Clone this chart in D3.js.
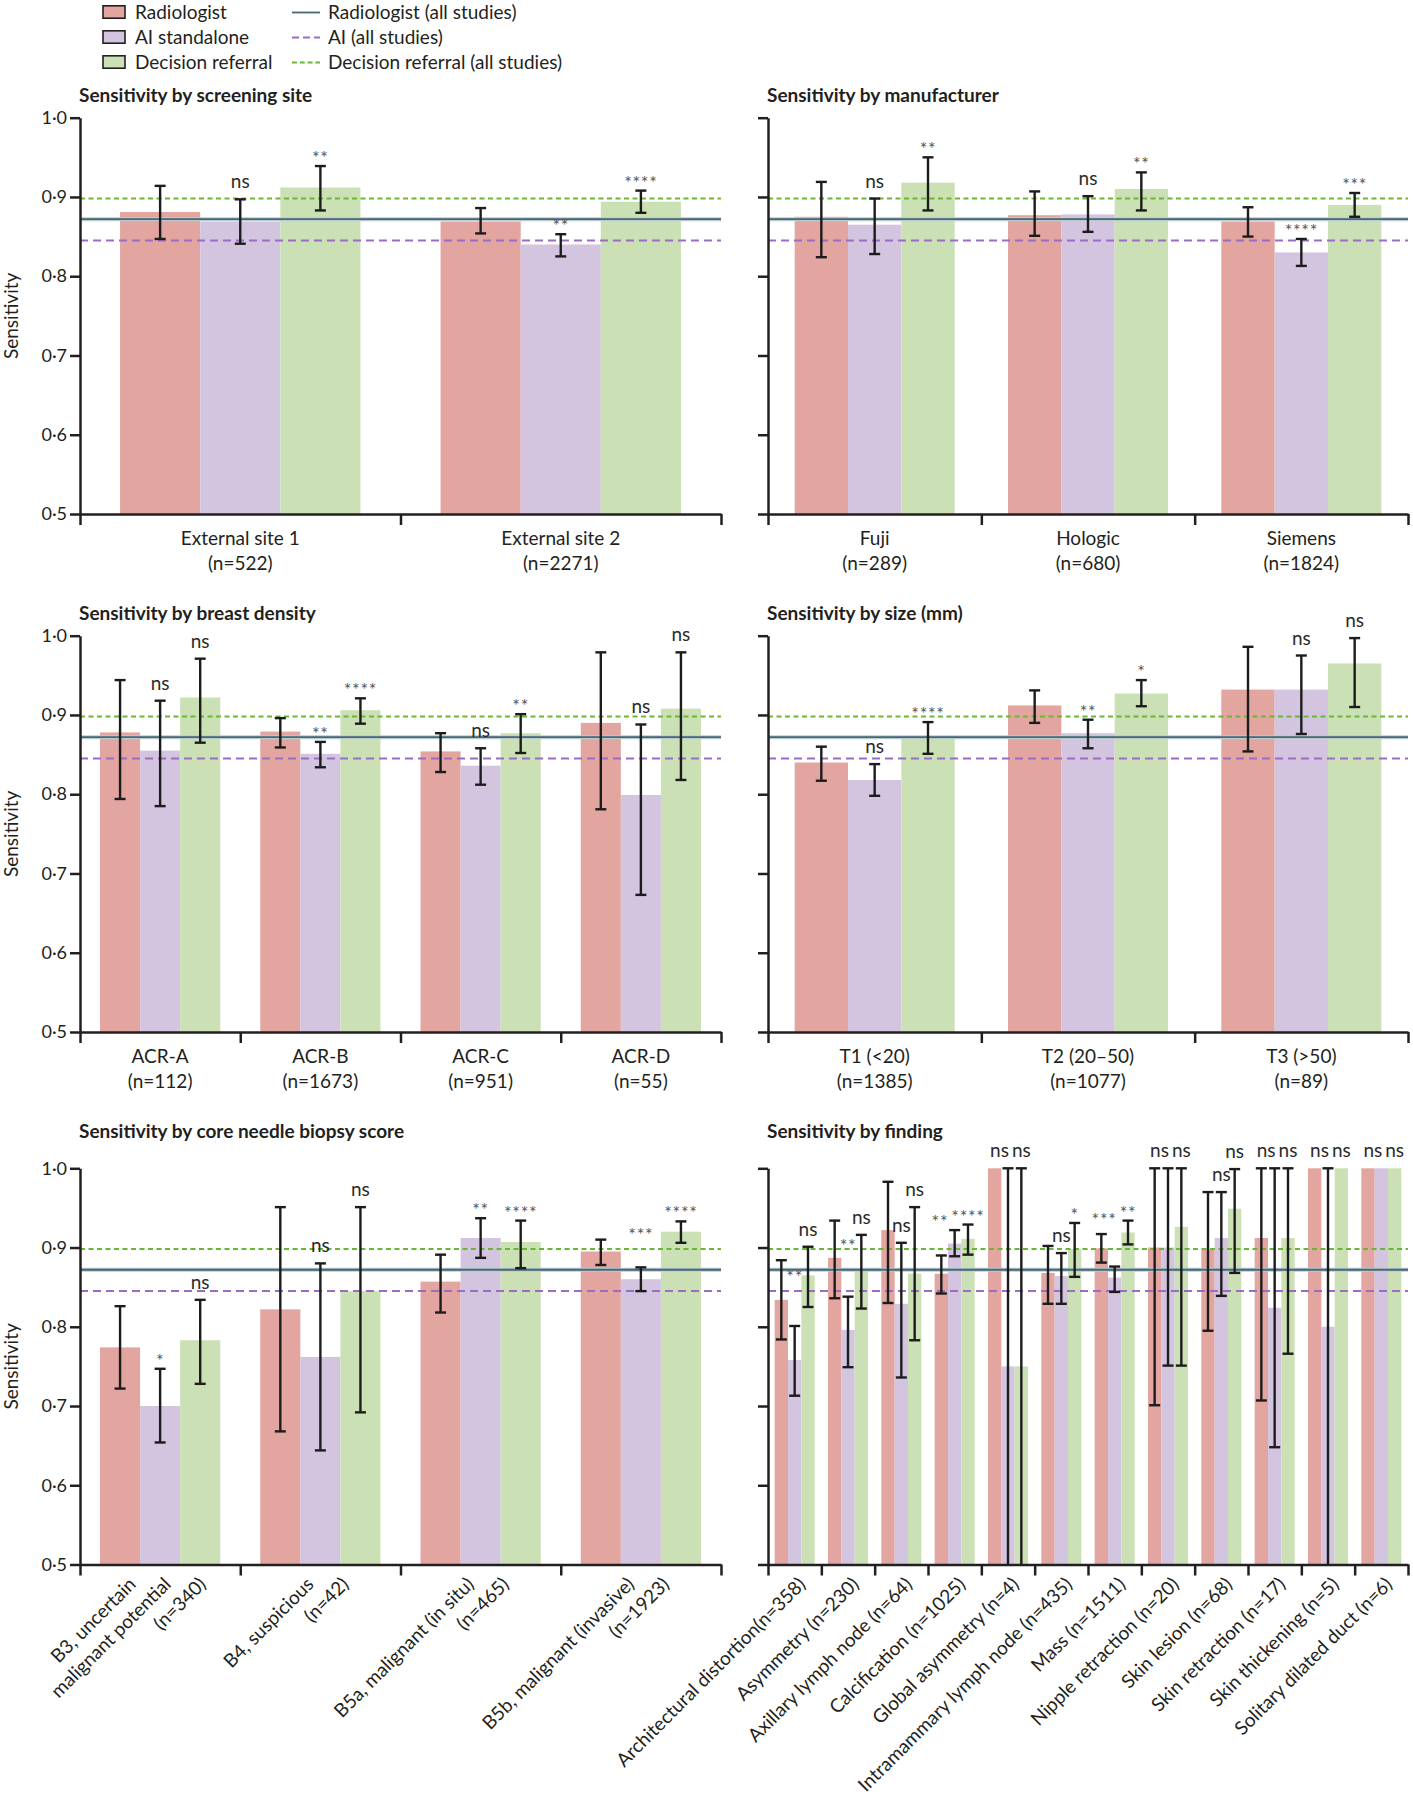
<!DOCTYPE html>
<html><head><meta charset="utf-8">
<script src="https://cdn.jsdelivr.net/npm/d3@7"></script>
<style>
body{margin:0;background:#fff;}
svg{display:block;font-family:Lato,"Noto Sans",sans-serif;}
.title{font-weight:700;font-size:19px;fill:#231f20;}
.lbl{font-size:19px;fill:#231f20;}
.tick text{font-size:18px;fill:#231f20;font-family:Lato,"Noto Sans",sans-serif;}
.axis path,.axis line{stroke:#231f20;stroke-width:2.5;}
</style>
</head><body>
<svg id="chart" width="1413" height="1800"></svg>
<script>
// ================= DATA =================
const seriesNames = ["Radiologist", "AI standalone", "Decision referral"];
const refNames = ["Radiologist (all studies)", "AI (all studies)", "Decision referral (all studies)"];
const refValues = [0.872, 0.845, 0.898];
const yTicks = [0.5, 0.6, 0.7, 0.8, 0.9, 1.0];
const yTitle = "Sensitivity";

// values are [sensitivity, lower CI, upper CI]
const siteTitle = "Sensitivity by screening site";
const siteCats = [["External site 1", "(n=522)"], ["External site 2", "(n=2271)"]];
const siteRad = [[0.881, 0.847, 0.914], [0.869, 0.854, 0.886]];
const siteAI  = [[0.869, 0.841, 0.897], [0.840, 0.825, 0.853]];
const siteDR  = [[0.912, 0.883, 0.939], [0.894, 0.880, 0.908]];
const siteAISig = ["ns", "**"];
const siteDRSig = ["**", "****"];

const manuTitle = "Sensitivity by manufacturer";
const manuCats = [["Fuji", "(n=289)"], ["Hologic", "(n=680)"], ["Siemens", "(n=1824)"]];
const manuRad = [[0.875, 0.824, 0.919], [0.877, 0.851, 0.907], [0.869, 0.850, 0.887]];
const manuAI  = [[0.865, 0.828, 0.898], [0.878, 0.856, 0.901], [0.830, 0.813, 0.847]];
const manuDR  = [[0.918, 0.883, 0.950], [0.910, 0.883, 0.931], [0.890, 0.875, 0.905]];
const manuAISig = ["ns", "ns", "****"];
const manuDRSig = ["**", "**", "***"];

const densTitle = "Sensitivity by breast density";
const densCats = [["ACR-A", "(n=112)"], ["ACR-B", "(n=1673)"], ["ACR-C", "(n=951)"], ["ACR-D", "(n=55)"]];
const densRad = [[0.878, 0.794, 0.944], [0.879, 0.859, 0.896], [0.854, 0.828, 0.877], [0.890, 0.781, 0.979]];
const densAI  = [[0.855, 0.785, 0.918], [0.851, 0.834, 0.866], [0.836, 0.812, 0.858], [0.799, 0.673, 0.888]];
const densDR  = [[0.922, 0.865, 0.971], [0.906, 0.889, 0.921], [0.877, 0.852, 0.901], [0.908, 0.818, 0.979]];
const densAISig = ["ns", "**", "ns", "ns"];
const densDRSig = ["ns", "****", "**", "ns"];

const sizeTitle = "Sensitivity by size (mm)";
const sizeCats = [["T1 (<20)", "(n=1385)"], ["T2 (20–50)", "(n=1077)"], ["T3 (>50)", "(n=89)"]];
const sizeRad = [[0.840, 0.817, 0.860], [0.912, 0.890, 0.931], [0.932, 0.854, 0.986]];
const sizeAI  = [[0.818, 0.798, 0.838], [0.877, 0.858, 0.894], [0.932, 0.876, 0.975]];
const sizeDR  = [[0.871, 0.851, 0.891], [0.927, 0.911, 0.944], [0.965, 0.910, 0.997]];
const sizeAISig = ["ns", "**", "ns"];
const sizeDRSig = ["****", "*", "ns"];

const biopTitle = "Sensitivity by core needle biopsy score";
const biopCats = [["B3, uncertain", "malignant potential", "(n=340)"], ["B4, suspicious", "(n=42)"],
                  ["B5a, malignant (in situ)", "(n=465)"], ["B5b, malignant (invasive)", "(n=1923)"]];
const biopRad = [[0.774, 0.722, 0.826], [0.822, 0.668, 0.951], [0.857, 0.818, 0.891], [0.895, 0.878, 0.910]];
const biopAI  = [[0.700, 0.654, 0.747], [0.762, 0.644, 0.880], [0.912, 0.887, 0.937], [0.860, 0.845, 0.875]];
const biopDR  = [[0.783, 0.728, 0.834], [0.845, 0.692, 0.951], [0.907, 0.874, 0.934], [0.920, 0.906, 0.933]];
const biopAISig = ["*", "ns", "**", "***"];
const biopDRSig = ["ns", "ns", "****", "****"];
const biopAISigAt = [null, null, null, 0.908];   // annotation level (sensitivity units) where set

const findTitle = "Sensitivity by finding";
const findCats = [["Architectural distortion(n=358)"], ["Asymmetry (n=230)"], ["Axillary lymph node (n=64)"],
  ["Calcification (n=1025)"], ["Global asymmetry (n=4)"], ["Intramammary lymph node (n=435)"], ["Mass (n=1511)"],
  ["Nipple retraction (n=20)"], ["Skin lesion (n=68)"], ["Skin retraction (n=17)"], ["Skin thickening (n=5)"],
  ["Solitary dilated duct (n=6)"]];
const findRad = [[0.834, 0.784, 0.884], [0.887, 0.836, 0.934], [0.922, 0.830, 0.983], [0.867, 0.842, 0.890],
  [1.0, null, null], [0.868, 0.829, 0.902], [0.899, 0.881, 0.917], [0.900, 0.701, 1.0], [0.897, 0.795, 0.970],
  [0.912, 0.707, 1.0], [1.0, null, null], [1.0, null, null]];
const findAI = [[0.758, 0.713, 0.801], [0.796, 0.749, 0.838], [0.829, 0.736, 0.906], [0.905, 0.889, 0.922],
  [0.75, 0.40, 1.0], [0.864, 0.829, 0.893], [0.862, 0.844, 0.876], [0.900, 0.751, 1.0], [0.912, 0.839, 0.970],
  [0.824, 0.648, 1.0], [0.80, 0.40, 1.0], [1.0, null, null]];
const findDR = [[0.865, 0.825, 0.901], [0.873, 0.823, 0.916], [0.867, 0.783, 0.951], [0.911, 0.891, 0.929],
  [0.75, 0.40, 1.0], [0.898, 0.863, 0.931], [0.919, 0.904, 0.934], [0.926, 0.751, 1.0], [0.949, 0.868, 0.999],
  [0.912, 0.766, 1.0], [1.0, null, null], [1.0, null, null]];
const findAISig = ["**", "**", "ns", "**", "ns", "ns", "***", "ns", "ns", "ns", "ns", "ns"];
const findDRSig = ["ns", "ns", "ns", "****", "ns", "*", "**", "ns", "ns", "ns", "ns", "ns"];
const findAISigAt = [0.855, 0.894, null, null, null, null, 0.927, null, null, null, null, null];

// ================= LAYOUT / STYLE =================
const rows = [{yT: 117.7, yB: 514, titleY: 102}, {yT: 635.7, yB: 1032, titleY: 620}, {yT: 1168.3, yB: 1564.5, titleY: 1138}];
const cols = [{xL: 80, xR: 721}, {xL: 768, xR: 1408}];
const colors = ["#e2a59f", "#d3c4e0", "#cbe1b5"];
const refStyle = [{stroke: "#4a6670", dash: null}, {stroke: "#9a6cc4", dash: "8,5"}, {stroke: "#68b836", dash: "5,3.5"}];

const panels = [
  {title: siteTitle, cats: siteCats, series: [siteRad, siteAI, siteDR], sigs: [null, siteAISig, siteDRSig], at: [null, null, null], r: 0, c: 0, mode: "stack"},
  {title: manuTitle, cats: manuCats, series: [manuRad, manuAI, manuDR], sigs: [null, manuAISig, manuDRSig], at: [null, null, null], r: 0, c: 1, mode: "stack"},
  {title: densTitle, cats: densCats, series: [densRad, densAI, densDR], sigs: [null, densAISig, densDRSig], at: [null, null, null], r: 1, c: 0, mode: "stack"},
  {title: sizeTitle, cats: sizeCats, series: [sizeRad, sizeAI, sizeDR], sigs: [null, sizeAISig, sizeDRSig], at: [null, null, null], r: 1, c: 1, mode: "stack"},
  {title: biopTitle, cats: biopCats, series: [biopRad, biopAI, biopDR], sigs: [null, biopAISig, biopDRSig], at: [null, biopAISigAt, null], r: 2, c: 0, mode: "rot"},
  {title: findTitle, cats: findCats, series: [findRad, findAI, findDR], sigs: [null, findAISig, findDRSig], at: [null, findAISigAt, null], r: 2, c: 1, mode: "rot"}
];

const svg = d3.select("#chart");
const fmtTick = d => d.toFixed(1).replace(".", "\u00B7");

// ---------- legend ----------
const leg = svg.append("g");
seriesNames.forEach((name, i) => {
  const cy = 12 + i * 25;
  leg.append("rect").attr("x", 103).attr("y", cy - 6.2).attr("width", 22).attr("height", 12.4)
    .attr("fill", colors[i]).attr("stroke", "#231f20").attr("stroke-width", 1.6);
  leg.append("text").attr("class", "lbl").attr("x", 135).attr("y", cy + 6.8).text(name);
});
refNames.forEach((name, i) => {
  const cy = 12.5 + i * 25;
  if (i === 0) {
    leg.append("line").attr("x1", 292).attr("x2", 320).attr("y1", cy).attr("y2", cy)
      .attr("stroke", refStyle[i].stroke).attr("stroke-width", 1.8);
  } else {
    leg.append("line").attr("x1", 292).attr("x2", 320).attr("y1", cy).attr("y2", cy)
      .attr("stroke", refStyle[i].stroke).attr("stroke-width", 2).attr("stroke-dasharray", i === 1 ? "7,4" : "5,2.8");
  }
  leg.append("text").attr("class", "lbl").attr("x", 328).attr("y", cy + 6.3).text(name);
});

// ---------- panels ----------
panels.forEach(p => {
  const row = rows[p.r], col = cols[p.c];
  const g = svg.append("g");
  const n = p.cats.length;
  const y = d3.scaleLinear().domain([0.5, 1.0]).range([row.yB, row.yT]);
  const xg = d3.scaleBand().domain(d3.range(n)).range([col.xL, col.xR]).paddingInner(0.25).paddingOuter(0.125);
  const xs = d3.scaleBand().domain([0, 1, 2]).range([0, xg.bandwidth()]);
  const xb = d3.scaleLinear().domain([0, n]).range([col.xL, col.xR]);
  const cxOf = (i, s) => xg(i) + xs(s) + xs.bandwidth() / 2;

  g.append("text").attr("class", "title").attr("x", col.xL - 1).attr("y", row.titleY).text(p.title);

  // bars
  p.series.forEach((ser, s) => {
    g.append("g").selectAll("rect").data(ser).join("rect")
      .attr("x", (d, i) => xg(i) + xs(s)).attr("width", xs.bandwidth())
      .attr("y", d => y(d[0])).attr("height", d => y(0.5) - y(d[0]))
      .attr("fill", colors[s]);
  });

  // reference lines
  refValues.forEach((v, i) => {
    if (i === 0) {
      g.append("line").attr("x1", col.xL).attr("x2", col.xR).attr("y1", y(v)).attr("y2", y(v))
        .attr("stroke", "#b7ccd3").attr("stroke-width", 4);
      g.append("line").attr("x1", col.xL).attr("x2", col.xR).attr("y1", y(v)).attr("y2", y(v))
        .attr("stroke", refStyle[0].stroke).attr("stroke-width", 1.8);
    } else {
      g.append("line").attr("x1", col.xL).attr("x2", col.xR).attr("y1", y(v)).attr("y2", y(v))
        .attr("stroke", refStyle[i].stroke).attr("stroke-width", 2).attr("stroke-dasharray", refStyle[i].dash);
    }
  });

  // error bars
  const capW = 5.5;
  p.series.forEach((ser, s) => {
    const eg = g.append("g").attr("stroke", "#1c1c1c").attr("stroke-width", 2.4);
    ser.forEach((d, i) => {
      if (d[1] == null) return;
      const cx = cxOf(i, s);
      const lo = Math.max(d[1], 0.5), hi = Math.min(d[2], 1.0);
      eg.append("line").attr("x1", cx).attr("x2", cx).attr("y1", y(hi)).attr("y2", y(lo));
      eg.append("line").attr("x1", cx - capW).attr("x2", cx + capW).attr("y1", y(hi)).attr("y2", y(hi));
      if (d[1] > 0.5) eg.append("line").attr("x1", cx - capW).attr("x2", cx + capW).attr("y1", y(lo)).attr("y2", y(lo));
    });
  });

  // axes
  const yAxis = d3.axisLeft(y).tickValues(yTicks).tickSize(10).tickSizeOuter(0).tickPadding(3)
    .tickFormat(p.c === 0 ? fmtTick : () => "");
  g.append("g").attr("class", "axis").attr("transform", `translate(${col.xL},0)`).call(yAxis);
  const xAxis = d3.axisBottom(xb).tickValues(d3.range(n + 1)).tickSize(11).tickSizeOuter(0).tickFormat(() => "");
  g.append("g").attr("class", "axis").attr("transform", `translate(0,${row.yB})`).call(xAxis);

  if (p.c === 0) {
    g.append("text").attr("class", "lbl").attr("text-anchor", "middle")
      .attr("transform", `translate(17.5,${(row.yT + row.yB) / 2}) rotate(-90)`).text(yTitle);
  }

  // category labels
  p.cats.forEach((lines, i) => {
    const c = xg(i) + xg.bandwidth() / 2;
    if (p.mode === "stack") {
      lines.forEach((t, j) => {
        g.append("text").attr("class", "lbl").attr("text-anchor", "middle")
          .attr("x", c).attr("y", row.yB + 30.5 + j * 25).text(t);
      });
    } else {
      const m = lines.length;
      lines.forEach((t, j) => {
        const ax = c + 12 + 35 * (j - (m - 1) / 2), ay = row.yB + 21;
        g.append("text").attr("class", "lbl").attr("text-anchor", "end")
          .attr("x", ax).attr("y", ay).attr("transform", `rotate(-45,${ax},${ay})`).text(t);
      });
    }
  });

  // significance labels
  p.cats.forEach((_, i) => {
    const placed = [];
    [1, 2].forEach(s => {
      const lab = p.sigs[s][i];
      if (!lab) return;
      const d = p.series[s][i];
      const top = d[2] != null ? Math.min(d[2], 1.0) : d[0];
      const isNs = lab === "ns";
      const anchor = p.at[s] ? p.at[s][i] : null;
      const by = anchor != null ? y(anchor) : y(top) - (isNs ? 11 : 2);
      const t = g.append("text").attr("text-anchor", "middle").attr("x", cxOf(i, s)).attr("y", by)
        .attr("font-size", isNs ? 19 : 18).attr("fill", isNs ? "#2b2b2b" : "#555")
        .attr("letter-spacing", isNs ? 0 : 0.7).text(lab);
      placed.push({t, x: cxOf(i, s), y: by, w: t.node().getComputedTextLength()});
    });
    if (placed.length === 2) {
      const [a, b] = placed;
      if (Math.abs(a.y - b.y) < 10) {
        const o = (a.w / 2 + b.w / 2 + 3) - (b.x - a.x);
        if (o > 0) a.t.attr("x", a.x - o);
      }
    }
  });
});
</script>
</body></html>
